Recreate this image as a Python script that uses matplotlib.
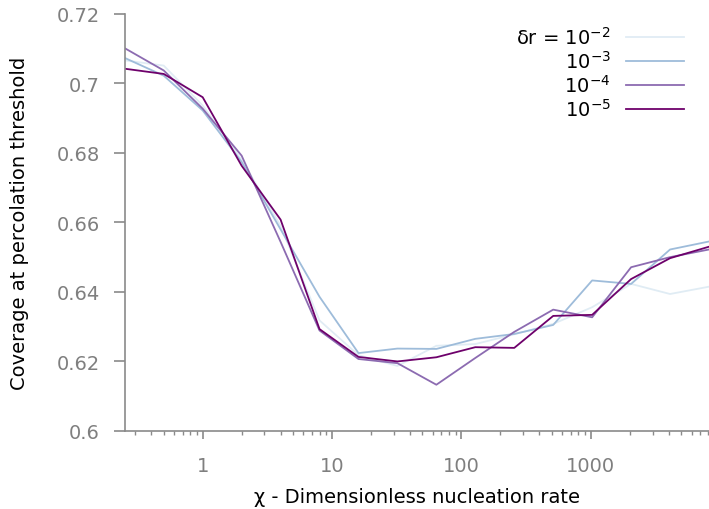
import numpy as np
import matplotlib
matplotlib.use("Agg")
from matplotlib import pyplot as plt
from matplotlib.ticker import FixedLocator, NullFormatter, LogLocator

# nucleation rate (powers of two)
chi = [0.25, 0.5, 1, 2, 4, 8, 16, 32, 64, 128, 256, 512, 1024, 2048, 4096, 8192]

# coverage at percolation threshold, one series per delta r
cov_1e2 = [0.7066, 0.7051, 0.6936, 0.6780, 0.6590, 0.6318, 0.6218, 0.6187, 0.6245,
           0.6250, 0.6278, 0.6308, 0.6356, 0.6423, 0.6394, 0.6415]
cov_1e3 = [0.7073, 0.7022, 0.6922, 0.6774, 0.6580, 0.6386, 0.6224, 0.6237, 0.6236,
           0.6265, 0.6279, 0.6305, 0.6433, 0.6423, 0.6522, 0.6545]
cov_1e4 = [0.7101, 0.7037, 0.6927, 0.6792, 0.6544, 0.6289, 0.6207, 0.6195, 0.6133,
           0.6210, 0.6285, 0.6349, 0.6327, 0.6471, 0.6500, 0.6522]
cov_1e5 = [0.7042, 0.7027, 0.6960, 0.6763, 0.6608, 0.6293, 0.6213, 0.6200, 0.6212,
           0.6241, 0.6239, 0.6331, 0.6334, 0.6437, 0.6497, 0.6530]

labels = ["δr = 10$^{\\mathregular{-2}}$", "10$^{\\mathregular{-3}}$",
          "10$^{\\mathregular{-4}}$", "10$^{\\mathregular{-5}}$"]
colors = ["#e0ecf4", "#9ebcda", "#8c6bb1", "#6e016b"]

fig = plt.figure(figsize=(7.09, 5.10), dpi=100)
ax = fig.add_axes([0.176, 0.153, 0.824, 0.818])

for y, lab, c in zip([cov_1e2, cov_1e3, cov_1e4, cov_1e5], labels, colors):
    ax.plot(chi, y, color=c, lw=1.3, label=lab)

ax.set_xscale("log")
ax.set_xlim(0.25, 8192)
ax.set_ylim(0.6, 0.72)

ax.xaxis.set_major_locator(FixedLocator([1, 10, 100, 1000]))
ax.set_xticklabels(["1", "10", "100", "1000"])
ax.xaxis.set_minor_locator(LogLocator(base=10, subs=np.arange(2, 10), numticks=20))
ax.xaxis.set_minor_formatter(NullFormatter())
yt = [0.6, 0.62, 0.64, 0.66, 0.68, 0.7, 0.72]
ax.set_yticks(yt)
ax.set_yticklabels(["0.6", "0.62", "0.64", "0.66", "0.68", "0.7", "0.72"])

gray = "#8a8a8a"
for s in ["top", "right"]:
    ax.spines[s].set_visible(False)
for s in ["left", "bottom"]:
    ax.spines[s].set_color(gray)
    ax.spines[s].set_linewidth(1.2)
ax.tick_params(axis="both", which="major", direction="out", width=1.2,
               color=gray, labelcolor="#7f7f7f", labelsize=14)
ax.tick_params(axis="y", which="major", length=8, pad=10)
ax.tick_params(axis="x", which="major", length=6, pad=12)
ax.tick_params(axis="x", which="minor", direction="out", length=3, width=1.0, color=gray)

ax.set_xlabel("χ - Dimensionless nucleation rate", fontsize=14, labelpad=9)
ax.set_ylabel("Coverage at percolation threshold", fontsize=14, labelpad=20)

leg = ax.legend(loc="upper right", frameon=False, markerfirst=False, fontsize=14,
                handlelength=3.0, labelspacing=0.12, borderaxespad=0.2,
                bbox_to_anchor=(0.978, 1.0))
for t in leg.get_texts():
    t.set_ha("right")
leg._legend_box.align = "right"

fig.savefig("out.png", dpi=100)
